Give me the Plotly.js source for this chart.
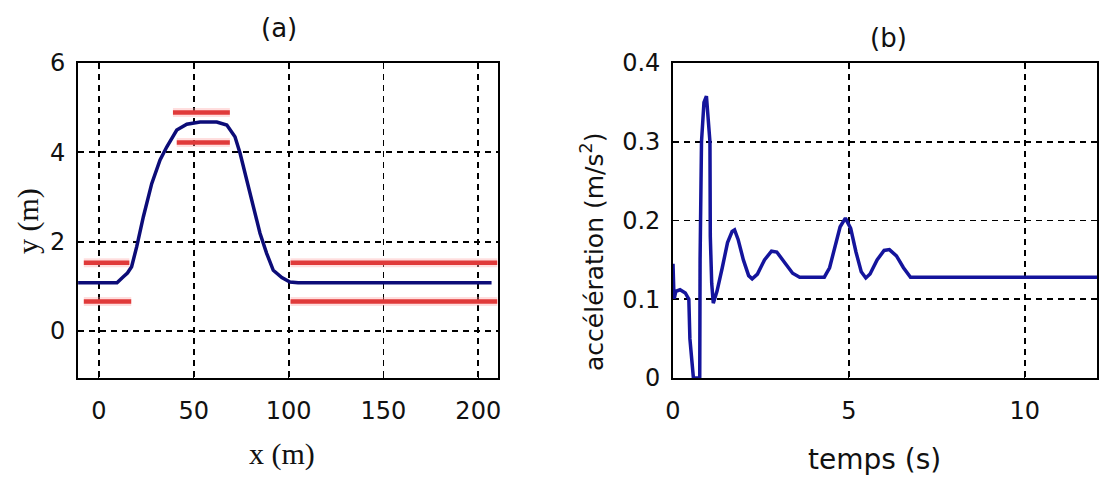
<!DOCTYPE html>
<html>
<head>
<meta charset="utf-8">
<script src="https://cdn.plot.ly/plotly-3.0.1.min.js"></script>
<style>html,body{margin:0;padding:0;background:#fff;}#chart{width:1107px;height:486px;}</style>
</head>
<body>
<div id="chart"></div>
<script>
// Panel (a): trajectory y(x)
const pathX = [-11, 9.5, 12.7, 15, 17.2, 19.9, 23.4, 27.8, 32.2, 35.7, 41, 46.3, 53.3, 62.1, 67.4, 71.7, 74.4, 77.9, 81.4, 84.9, 88.4, 91.9, 96.4, 100.7, 105, 207];
const pathY = [1.08, 1.08, 1.21, 1.3, 1.44, 1.89, 2.56, 3.30, 3.83, 4.12, 4.50, 4.63, 4.68, 4.68, 4.61, 4.35, 3.98, 3.38, 2.78, 2.19, 1.74, 1.36, 1.20, 1.10, 1.08, 1.08];
// Red boundary segments (upper and lower), null separates segments
const upperX = [-8, 16, null, 39, 69, null, 101, 210];
const upperY = [1.53, 1.53, null, 4.89, 4.89, null, 1.53, 1.53];
const lowerX = [-8, 17, null, 41, 69, null, 101, 210];
const lowerY = [0.66, 0.66, null, 4.22, 4.22, null, 0.66, 0.66];
const aXTicks = [0, 50, 100, 150, 200];
const aYTicks = [0, 2, 4, 6];

// Panel (b): acceleration vs time
const timeS = [0, 0.03, 0.08, 0.2, 0.35, 0.45, 0.48, 0.52, 0.58, 0.76, 0.77, 0.81, 0.88, 0.95, 1.0, 1.05, 1.06, 1.1, 1.145, 1.25, 1.4, 1.55, 1.68, 1.75, 1.85, 2.0, 2.15, 2.25, 2.4, 2.6, 2.8, 2.95, 3.15, 3.4, 3.6, 4.3, 4.45, 4.6, 4.75, 4.9, 5.05, 5.2, 5.35, 5.48, 5.6, 5.8, 6.0, 6.15, 6.35, 6.55, 6.75, 12.05];
const accel = [0.145, 0.10, 0.11, 0.112, 0.108, 0.10, 0.05, 0.03, 0, 0, 0.15, 0.30, 0.35, 0.358, 0.33, 0.30, 0.18, 0.12, 0.095, 0.11, 0.14, 0.172, 0.186, 0.188, 0.176, 0.15, 0.13, 0.126, 0.132, 0.150, 0.161, 0.160, 0.148, 0.133, 0.128, 0.128, 0.14, 0.165, 0.192, 0.203, 0.19, 0.16, 0.135, 0.127, 0.132, 0.15, 0.162, 0.163, 0.155, 0.14, 0.128, 0.128];
const bXTicks = [0, 5, 10];
const bYTicks = [0, 0.1, 0.2, 0.3, 0.4];
const bYText = ["0", "0.1", "0.2", "0.3", "0.4"];

const tickFont = {family: "DejaVu Sans", size: 24, color: "#111"};
const gridStyle = {showgrid: true, gridcolor: "#000", gridwidth: 1.8, griddash: "6px,5px", zeroline: false,
  showline: true, linecolor: "#000", linewidth: 1.8, mirror: true, ticks: "inside", ticklen: 5, tickcolor: "#000",
  tickfont: tickFont, fixedrange: true};

const traces = [
  {x: upperX, y: upperY, xaxis: "x", yaxis: "y", mode: "lines", line: {color: "rgba(255,160,160,0.35)", width: 9}, hoverinfo: "skip", showlegend: false},
  {x: lowerX, y: lowerY, xaxis: "x", yaxis: "y", mode: "lines", line: {color: "rgba(255,160,160,0.35)", width: 9}, hoverinfo: "skip", showlegend: false},
  {x: upperX, y: upperY, xaxis: "x", yaxis: "y", mode: "lines", line: {color: "#e03a3a", width: 4.5}, showlegend: false},
  {x: lowerX, y: lowerY, xaxis: "x", yaxis: "y", mode: "lines", line: {color: "#e03a3a", width: 4.5}, showlegend: false},
  {x: pathX, y: pathY, xaxis: "x", yaxis: "y", mode: "lines", line: {color: "#0c0c78", width: 3.5}, showlegend: false},
  {x: timeS, y: accel, xaxis: "x2", yaxis: "y2", mode: "lines", line: {color: "#14149c", width: 3.5}, showlegend: false}
];

const layout = {
  width: 1107, height: 486,
  margin: {l: 0, r: 0, t: 0, b: 0},
  paper_bgcolor: "#fff", plot_bgcolor: "#fff",
  showlegend: false,
  xaxis: Object.assign({}, gridStyle, {domain: [78/1107, 498/1107], range: [-11.07, 210.4], tickvals: aXTicks, ticklabelstandoff: 10, anchor: "y"}),
  yaxis: Object.assign({}, gridStyle, {domain: [108/486, 423/486], range: [-1.05, 6], tickvals: aYTicks, ticklabelstandoff: 6, anchor: "x"}),
  xaxis2: Object.assign({}, gridStyle, {domain: [673/1107, 1097/1107], range: [0, 12.05], tickvals: bXTicks, ticklabelstandoff: 10, anchor: "y2"}),
  yaxis2: Object.assign({}, gridStyle, {domain: [108/486, 423/486], range: [0, 0.4], tickvals: bYTicks, ticktext: bYText, ticklabelstandoff: 6, anchor: "x2"}),
  annotations: [
    {text: "(a)", xref: "paper", yref: "paper", x: 279/1107, y: (486-28)/486, xanchor: "center", yanchor: "middle", showarrow: false, font: {family: "DejaVu Sans", size: 26, color: "#111"}},
    {text: "(b)", xref: "paper", yref: "paper", x: 888/1107, y: (486-38)/486, xanchor: "center", yanchor: "middle", showarrow: false, font: {family: "DejaVu Sans", size: 26, color: "#111"}},
    {text: "x (m)", xref: "paper", yref: "paper", x: 282/1107, y: (486-454)/486, xanchor: "center", yanchor: "middle", showarrow: false, font: {family: "Liberation Serif", size: 30, color: "#111"}},
    {text: "y (m)", xref: "paper", yref: "paper", x: 28/1107, y: (486-221)/486, xanchor: "center", yanchor: "middle", textangle: -90, showarrow: false, font: {family: "Liberation Serif", size: 30, color: "#111"}},
    {text: "temps (s)", xref: "paper", yref: "paper", x: 874/1107, y: (486-459)/486, xanchor: "center", yanchor: "middle", showarrow: false, font: {family: "DejaVu Sans", size: 28, color: "#111"}},
    {text: "accélération (m/s<sup>2</sup>)", xref: "paper", yref: "paper", x: 592/1107, y: (486-252)/486, xanchor: "center", yanchor: "middle", textangle: -90, showarrow: false, font: {family: "DejaVu Sans", size: 25, color: "#111"}}
  ]
};

Plotly.newPlot("chart", traces, layout, {displayModeBar: false, staticPlot: true});
</script>
</body>
</html>
